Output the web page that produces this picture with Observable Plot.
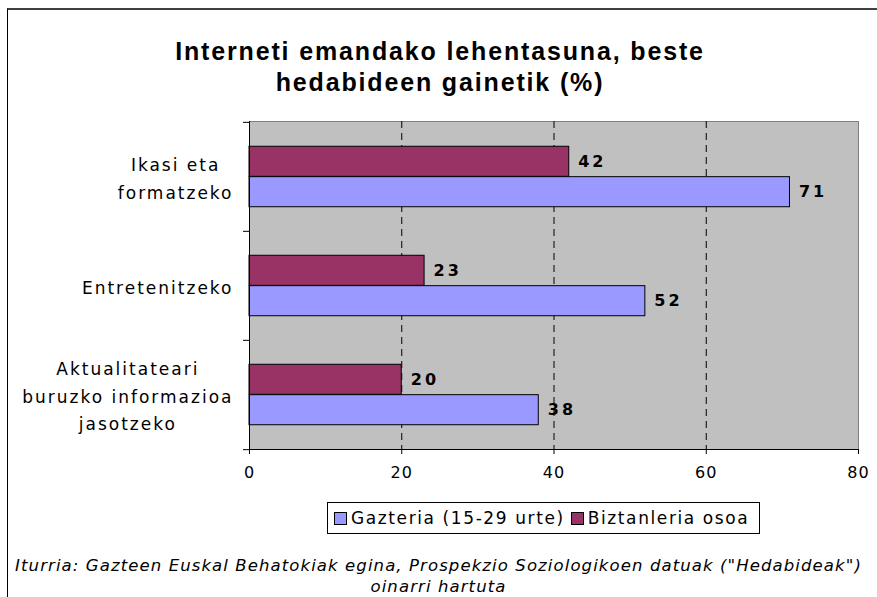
<!DOCTYPE html>
<html>
<head>
<meta charset="utf-8">
<script src="https://cdn.jsdelivr.net/npm/d3@7"></script>
<script src="https://cdn.jsdelivr.net/npm/@observablehq/plot@0.6"></script>
<style>
  html, body { margin: 0; padding: 0; background: #fff; overflow: hidden; }
  #page { position: relative; width: 877px; height: 597px; overflow: hidden; }
  #frame { position: absolute; left: 7px; top: 8px; width: 900px; height: 620px;
           border-top: 2px solid #404040; border-left: 1px solid #000; }
  #title { position: absolute; top: 36px; left: 0; width: 880px; text-align: center;
           font-family: "Liberation Sans", Arial, sans-serif; font-weight: bold; font-size: 25px;
           letter-spacing: 1.85px; line-height: 31px; color: #000; }
  #chart { position: absolute; left: 0; top: 100px; }
  #legend { position: absolute; left: 327px; top: 502px; height: 32px;
            border: 1px solid #000; box-sizing: border-box; background: #fff;
            font-family: "DejaVu Sans", Verdana, sans-serif; font-size: 17px; letter-spacing: 1.6px;
            display: flex; align-items: center; padding-left: 6px; padding-right: 4px; white-space: nowrap; }
  .sw { display: inline-block; width: 11px; height: 11px; border: 1px solid #000; margin-right: 4px; }
  .item { display: inline-flex; align-items: center; margin-right: 6px; }
  #caption { position: absolute; top: 555px; left: 0; width: 877px; text-align: center;
             font-family: "DejaVu Sans", Verdana, sans-serif; font-style: italic; font-size: 16.5px;
             line-height: 21px; color: #000; letter-spacing: 1.1px; }
</style>
</head>
<body>
<div id="page">
  <div id="frame"></div>
  <div id="title"></div>
  <div id="chart"></div>
  <div id="legend"></div>
  <div id="caption"></div>
</div>
<script>
// ---- data ----
const titleLines = ["Interneti emandako lehentasuna, beste", "hedabideen gainetik (%)"];
const categories = ["Ikasi eta\nformatzeko", "Entretenitzeko", "Aktualitateari\nburuzko informazioa\njasotzeko"];
const seriesNames = ["Gazteria (15-29 urte)", "Biztanleria osoa"];
const gazteria = [71, 52, 38];
const biztanleria = [42, 23, 20];
const xTicks = [0, 20, 40, 60, 80];
const gridTicks = [20, 40, 60];
const captionLines = ["Iturria: Gazteen Euskal Behatokiak egina, Prospekzio Soziologikoen datuak (\"Hedabideak\")", "oinarri hartuta"];

// ---- styles ----
const colors = { [seriesNames[0]]: "#9999ff", [seriesNames[1]]: "#993366" };
const W = 877, H = 399, mT = 21, mB = 50, mL = 249, mR = 19;
const band = (H - mT - mB) / categories.length;
const outerGap = band * 0.222;
const barH = (band - 2 * outerGap) / 2;

const young = categories.map((c, i) => ({ cat: c, value: gazteria[i], series: seriesNames[0] }));
const all = categories.map((c, i) => ({ cat: c, value: biztanleria[i], series: seriesNames[1] }));

document.getElementById("title").innerHTML = titleLines.join("<br>");
document.getElementById("caption").innerHTML = captionLines.join("<br>");
document.getElementById("legend").innerHTML = seriesNames.map(s =>
  `<span class="item"><span class="sw" style="background:${colors[s]}"></span>${s}</span>`).join("");

const axisFont = "DejaVu Sans, Verdana, sans-serif";

const chart = Plot.plot({
  width: W, height: H,
  marginTop: mT, marginBottom: mB, marginLeft: mL, marginRight: mR,
  style: { fontFamily: axisFont, fontSize: "16px", color: "#000", background: "transparent", overflow: "visible" },
  x: { domain: [0, 80], ticks: xTicks },
  y: { domain: categories, padding: 0, label: null },
  marks: [
    Plot.frame({ fill: "#c0c0c0", stroke: "#808080" }),
    Plot.gridX(gridTicks, { stroke: "#000", strokeOpacity: 1, strokeDasharray: "7,5" }),
    Plot.barX(all, { x: "value", y: "cat", fill: d => colors[d.series], stroke: "#000", strokeWidth: 1,
      insetTop: outerGap, insetBottom: outerGap + barH }),
    Plot.barX(young, { x: "value", y: "cat", fill: d => colors[d.series], stroke: "#000", strokeWidth: 1,
      insetTop: outerGap + barH, insetBottom: outerGap }),
    Plot.text(all, { x: "value", y: "cat", text: d => String(d.value), dy: -barH / 2, dx: 9,
      textAnchor: "start", fontWeight: "bold", fontSize: 16, fill: "#000" }),
    Plot.text(young, { x: "value", y: "cat", text: d => String(d.value), dy: barH / 2, dx: 9,
      textAnchor: "start", fontWeight: "bold", fontSize: 16, fill: "#000" }),
    Plot.ruleX([0], { stroke: "#000" }),
    Plot.frame({ anchor: "bottom", stroke: "#000" }),
    Plot.axisX({ ticks: xTicks, tickSize: 5, tickPadding: 12, label: null, fontSize: 16 }),
    Plot.axisY({ tickSize: 0, tickPadding: 16, label: null, fontSize: 17, lineHeight: 1.62, dy: -1 }),
    Plot.axisY({ tickSize: 6, tickFormat: () => "", dy: -band / 2, label: null }),
    Plot.axisY([categories[categories.length - 1]], { tickSize: 6, tickFormat: () => "", dy: band / 2, label: null })
  ]
});
document.getElementById("chart").appendChild(chart);

// letter spacing (Excel-like wide rendering)
chart.querySelectorAll('g[aria-label="text"] text').forEach(t => t.style.letterSpacing = "3px");
chart.querySelectorAll('g[aria-label="x-axis tick label"] text').forEach(t => t.style.letterSpacing = "1px");
const yLabels = chart.querySelectorAll('g[aria-label="y-axis tick label"] text');
yLabels.forEach(t => t.style.letterSpacing = "2px");
// center multi-line category labels within their block (right edge kept)
yLabels.forEach(t => {
  const bb = t.getBBox();
  if (!bb.width) return;
  const cx = bb.x + bb.width / 2;
  t.setAttribute("text-anchor", "middle");
  const spans = t.querySelectorAll("tspan");
  if (spans.length) spans.forEach(s => s.setAttribute("x", cx));
  else t.setAttribute("x", cx);
});
</script>
</body>
</html>
